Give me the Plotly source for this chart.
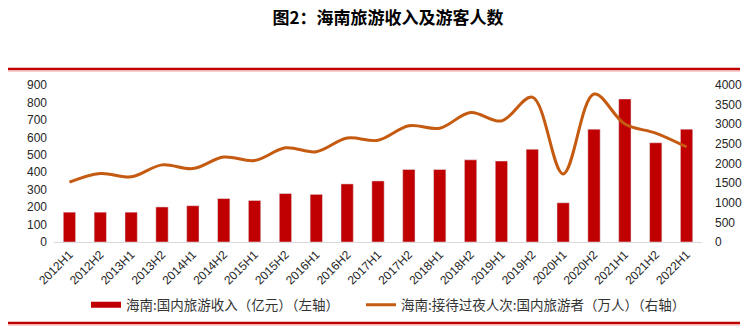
import plotly.graph_objects as go

categories = ["2012H1", "2012H2", "2013H1", "2013H2", "2014H1", "2014H2", "2015H1",
              "2015H2", "2016H1", "2016H2", "2017H1", "2017H2", "2018H1", "2018H2",
              "2019H1", "2019H2", "2020H1", "2020H2", "2021H1", "2021H2", "2022H1"]
revenue = [171, 171, 171, 201, 208, 249, 238, 278, 273, 333, 350, 416, 416, 471,
           464, 532, 225, 647, 820, 569, 647]
visitors = [1525, 1745, 1660, 1965, 1870, 2165, 2075, 2400, 2300, 2650, 2590, 2960,
            2900, 3300, 3085, 3690, 1735, 3770, 3005, 2775, 2420]

left_ticks = list(range(0, 901, 100))
right_ticks = list(range(0, 4001, 500))

W, H = 749, 336
L, R, T, B = 54, 47, 85, 94
PW, PH = W - L - R, H - T - B


def px(x):
    return (x - L) / PW


def py(y):
    return (H - B - y) / PH


BAR = "#C00000"
LINE = "#C55A11"
name1 = "海南:国内旅游收入（亿元）（左轴）"
name2 = "海南:接待过夜人次:国内旅游者（万人）（右轴）"

fig = go.Figure()
fig.add_trace(go.Bar(x=categories, y=revenue, marker_color=BAR, name=name1,
                     showlegend=False, yaxis="y"))
fig.add_trace(go.Scatter(x=categories, y=visitors, mode="lines", name=name2,
                         line=dict(color=LINE, width=3, shape="spline", smoothing=1.0),
                         showlegend=False, yaxis="y2"))
# legend entries
fig.add_trace(go.Scatter(x=[None], y=[None], mode="lines", name=name1,
                         line=dict(color=BAR, width=6), legend="legend"))
fig.add_trace(go.Scatter(x=[None], y=[None], mode="lines", name=name2,
                         line=dict(color=LINE, width=3), legend="legend2"))

tickfont = dict(family="Liberation Sans, Arial, sans-serif", size=12, color="#262626")
legfont = dict(family="Noto Sans CJK SC", size=13.5, color="#333333")

fig.update_layout(
    width=W, height=H,
    margin=dict(l=L, r=R, t=T, b=B, autoexpand=False),
    paper_bgcolor="white", plot_bgcolor="white",
    bargap=0.6,
    title=dict(text="<b>图2：海南旅游收入及游客人数</b>", x=388 / W, xanchor="center",
               xref="container", y=1 - 18 / H, yanchor="middle", yref="container",
               font=dict(family="Noto Sans CJK SC", size=17, color="#000000")),
    xaxis=dict(type="category", tickangle=-45, showgrid=False, ticks="",
               showline=True, linecolor="#D9D9D9", linewidth=1, ticklabelstandoff=0,
               tickfont=dict(family="Liberation Sans, Arial, sans-serif", size=12,
                             color="#262626")),
    yaxis=dict(range=[0, 900], tickvals=left_ticks, showgrid=False, zeroline=False,
               tickfont=tickfont, ticks="", ticklabelstandoff=6),
    yaxis2=dict(range=[0, 4000], tickvals=right_ticks, overlaying="y", side="right",
                showgrid=False, zeroline=False, tickfont=tickfont, ticks="",
                ticklabelstandoff=12),
    legend=dict(orientation="h", x=px(86), xanchor="left", y=py(305), yanchor="middle",
                font=legfont, itemwidth=30, bgcolor="rgba(0,0,0,0)"),
    legend2=dict(orientation="h", x=px(361), xanchor="left", y=py(305), yanchor="middle",
                 font=legfont, itemwidth=30, bgcolor="rgba(0,0,0,0)"),
    shapes=[
        dict(type="line", xref="paper", yref="paper", x0=px(8), x1=px(740),
             y0=py(69), y1=py(69), line=dict(color="#C00000", width=2.5)),
        dict(type="line", xref="paper", yref="paper", x0=px(8), x1=px(740),
             y0=py(71), y1=py(71), line=dict(color="#F4A0A0", width=1)),
        dict(type="line", xref="paper", yref="paper", x0=px(8), x1=px(740),
             y0=py(323), y1=py(323), line=dict(color="#C00000", width=2.5)),
        dict(type="line", xref="paper", yref="paper", x0=px(8), x1=px(740),
             y0=py(325), y1=py(325), line=dict(color="#F4A0A0", width=1)),
    ],
)

fig.write_html("out.html")
